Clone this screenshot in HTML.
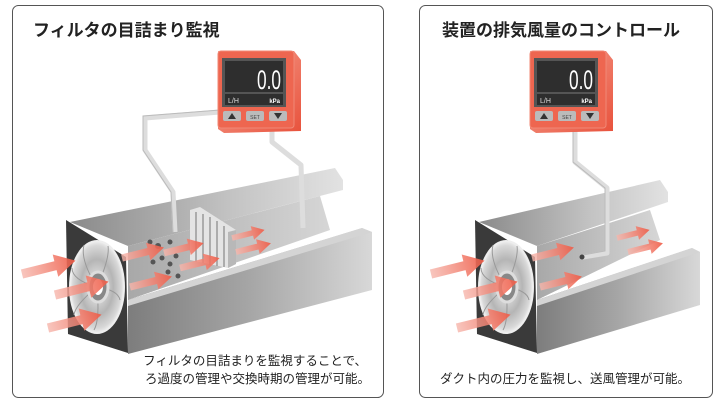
<!DOCTYPE html>
<html><head><meta charset="utf-8"><style>
html,body{margin:0;padding:0;background:#fff;}
svg{display:block;}
text{font-family:"Liberation Sans","Noto Sans CJK JP",sans-serif;}
</style></head><body>
<svg width="717" height="404" viewBox="0 0 717 404" xmlns="http://www.w3.org/2000/svg">
<defs>
<linearGradient id="wall" x1="0" y1="0" x2="1" y2="0"><stop offset="0" stop-color="#8a8a8a"/><stop offset="0.6" stop-color="#c4c4c4"/><stop offset="1" stop-color="#e2e2e2"/></linearGradient>
<linearGradient id="front" x1="0" y1="0" x2="1" y2="0"><stop offset="0" stop-color="#7d7d7d"/><stop offset="0.5" stop-color="#a6a6a6"/><stop offset="1" stop-color="#d8d8d8"/></linearGradient>
<linearGradient id="floor" x1="0" y1="0" x2="1" y2="0"><stop offset="0" stop-color="#a8a8a8"/><stop offset="1" stop-color="#d6d6d6"/></linearGradient>
<radialGradient id="fan" cx="0.5" cy="0.5" r="0.5"><stop offset="0" stop-color="#f4f4f4"/><stop offset="0.6" stop-color="#b5b5b5"/><stop offset="0.9" stop-color="#d8d8d8"/><stop offset="1" stop-color="#f0f0f0"/></radialGradient>
<linearGradient id="arr" x1="0" y1="0" x2="1" y2="0"><stop offset="0" stop-color="#f6b7ad" stop-opacity="0.8"/><stop offset="1" stop-color="#ef5a45" stop-opacity="0.9"/></linearGradient>
<linearGradient id="red" x1="0" y1="0" x2="1" y2="1"><stop offset="0" stop-color="#f7a595"/><stop offset="1" stop-color="#e8523c"/></linearGradient>
<g id="fanface">
  <polygon points="66,220 126,257 128,353 68,334" fill="#3a3a3a"/>
  <ellipse cx="97" cy="287" rx="27" ry="46" fill="url(#fan)" stroke="#eee" stroke-width="2"/>
  <g stroke="#999" stroke-width="1" fill="none">
    <path d="M97,287 Q80,260 84,245"/><path d="M97,287 Q110,258 108,246"/><path d="M97,287 Q118,290 120,300"/>
    <path d="M97,287 Q100,320 94,330"/><path d="M97,287 Q75,305 74,315"/><path d="M97,287 Q72,280 72,268"/>
  </g>
  <ellipse cx="98" cy="287" rx="10" ry="15" fill="#888" stroke="#ddd" stroke-width="3"/>
  <ellipse cx="98" cy="287" rx="5" ry="8" fill="#fff"/>
</g>
<g id="sensor">
  <polygon points="0,0 76,0 83,9 83,80 6,82 0,78" fill="url(#red)"/>
  <rect x="0" y="0" width="76" height="77" rx="3" fill="#ee6650" stroke="#f08876"/>
  <rect x="4" y="7" width="64" height="49" fill="#555"/>
  <rect x="7" y="10" width="58" height="31" fill="#2e2e2e"/>
  <rect x="7" y="43" width="58" height="11" fill="#2e2e2e"/>
  <text x="63" y="38" font-size="27" fill="#fff" text-anchor="end" textLength="24" lengthAdjust="spacingAndGlyphs">0.0</text>
  <text x="10" y="52" font-size="7" fill="#ddd">L/H</text>
  <text x="62" y="52" font-size="6" fill="#fff" font-weight="bold" text-anchor="end">kPa</text>
  <rect x="5" y="60" width="18" height="10" rx="2" fill="#bbb"/>
  <rect x="28" y="60" width="18" height="10" rx="2" fill="#bbb"/>
  <rect x="51" y="60" width="18" height="10" rx="2" fill="#bbb"/>
  <polygon points="10,68 14,62 18,68" fill="#333"/>
  <polygon points="56,62 64,62 60,68" fill="#333"/>
  <text x="37" y="68" font-size="5" fill="#444" text-anchor="middle">SET</text>
</g>
<g id="arrow"><polygon points="0,-4 30,-4 30,-10 48,0 30,10 30,4 0,4" fill="url(#arr)"/></g>
</defs>

<rect x="12.5" y="5.5" width="371" height="392" rx="6" fill="#fff" stroke="#555"/>
<rect x="419.5" y="5.5" width="293" height="392" rx="6" fill="#fff" stroke="#555"/>

<text x="33" y="36" font-size="17" font-weight="bold" fill="#222">フィルタの目詰まり監視</text>
<text x="442" y="36" font-size="17" font-weight="bold" fill="#222">装置の排気風量のコントロール</text>

<!-- panel 1 -->
<polygon points="70,222 335,168 343,180 343,190 128,246" fill="url(#wall)"/>
<polygon points="128,246 320,196 330,230 128,300" fill="url(#floor)"/>
<polygon points="128,300 362,228 372,232 372,290 128,354" fill="url(#front)"/>
<polygon points="128,300 362,228 372,232 128,306" fill="#d4d4d4"/>
<use href="#fanface"/>
<g fill="none" stroke="#ddd" stroke-width="5" stroke-linejoin="round">
  <polyline points="220,112 145,118 145,150 173,192 175,232"/>
  <polyline points="272,130 272,142 301,165 303,228"/>
</g>
<g fill="none" stroke="#bbb" stroke-width="1">
  <polyline points="220,110 143,116 143,150 171,192 173,232"/>
</g>
<g fill="#555">
  <circle cx="150" cy="242" r="2.5"/><circle cx="158" cy="246" r="3"/><circle cx="170" cy="242" r="2.5"/>
  <circle cx="153" cy="262" r="2.5"/><circle cx="162" cy="258" r="2.5"/><circle cx="170" cy="264" r="2.5"/>
  <circle cx="168" cy="272" r="2.5"/><circle cx="178" cy="276" r="2.5"/><circle cx="176" cy="256" r="2.5"/>
</g>
<polygon points="190,210 200,207 236,230 236,264 228,268 190,260" fill="#e4e4e4"/>
<g stroke="#999" stroke-width="1.5"><line x1="196" y1="212" x2="196" y2="262"/><line x1="203" y1="214" x2="203" y2="263"/><line x1="210" y1="217" x2="210" y2="265"/><line x1="217" y1="221" x2="217" y2="266"/><line x1="224" y1="226" x2="224" y2="267"/></g>
<polygon points="228,232 236,230 236,264 228,268" fill="#b8b8b8"/>
<use href="#arrow" transform="translate(22,274) rotate(-14) scale(1.15)"/>
<use href="#arrow" transform="translate(55,295) rotate(-14) scale(1.15)"/>
<use href="#arrow" transform="translate(48,328) rotate(-14) scale(1.15)"/>
<use href="#arrow" transform="translate(122,258) rotate(-14) scale(0.9)"/>
<use href="#arrow" transform="translate(130,287) rotate(-14) scale(0.9)"/>
<use href="#arrow" transform="translate(164,253) rotate(-14) scale(0.85)"/>
<use href="#arrow" transform="translate(180,268) rotate(-14) scale(0.85)"/>
<use href="#arrow" transform="translate(232,238) rotate(-14) scale(0.7)"/>
<use href="#arrow" transform="translate(236,252) rotate(-14) scale(0.75)"/>
<use href="#sensor" transform="translate(218,51)"/>
<text x="367" y="365" font-size="12.5" fill="#222" text-anchor="end">フィルタの目詰まりを監視することで、</text>
<text x="370" y="383" font-size="12.5" fill="#222" text-anchor="end">ろ過度の管理や交換時期の管理が可能。</text>

<!-- panel 2 -->
<polygon points="479,222 660,180 668,192 668,202 537,246" fill="url(#wall)"/>
<polygon points="537,246 650,210 660,240 537,300" fill="url(#floor)"/>
<polygon points="537,300 692,248 700,252 700,305 537,354" fill="url(#front)"/>
<polygon points="537,300 692,248 700,252 537,306" fill="#d4d4d4"/>
<use href="#fanface" transform="translate(409,0)"/>
<g fill="none" stroke="#ddd" stroke-width="5" stroke-linejoin="round">
  <polyline points="575,130 575,162 607,188 607,253 583,257"/>
</g>
<g fill="none" stroke="#bbb" stroke-width="1"><polyline points="573,130 573,162 605,188 605,251 583,255"/></g>
<circle cx="582" cy="257" r="2.5" fill="#444"/>
<use href="#arrow" transform="translate(431,274) rotate(-14) scale(1.15)"/>
<use href="#arrow" transform="translate(464,295) rotate(-14) scale(1.15)"/>
<use href="#arrow" transform="translate(457,328) rotate(-14) scale(1.15)"/>
<use href="#arrow" transform="translate(532,258) rotate(-14) scale(0.9)"/>
<use href="#arrow" transform="translate(540,287) rotate(-14) scale(0.9)"/>
<use href="#arrow" transform="translate(617,238) rotate(-14) scale(0.7)"/>
<use href="#arrow" transform="translate(628,252) rotate(-14) scale(0.75)"/>
<use href="#sensor" transform="translate(530,51)"/>
<text x="565" y="383" font-size="12.5" fill="#222" text-anchor="middle">ダクト内の圧力を監視し、送風管理が可能。</text>
</svg>
</body></html>
